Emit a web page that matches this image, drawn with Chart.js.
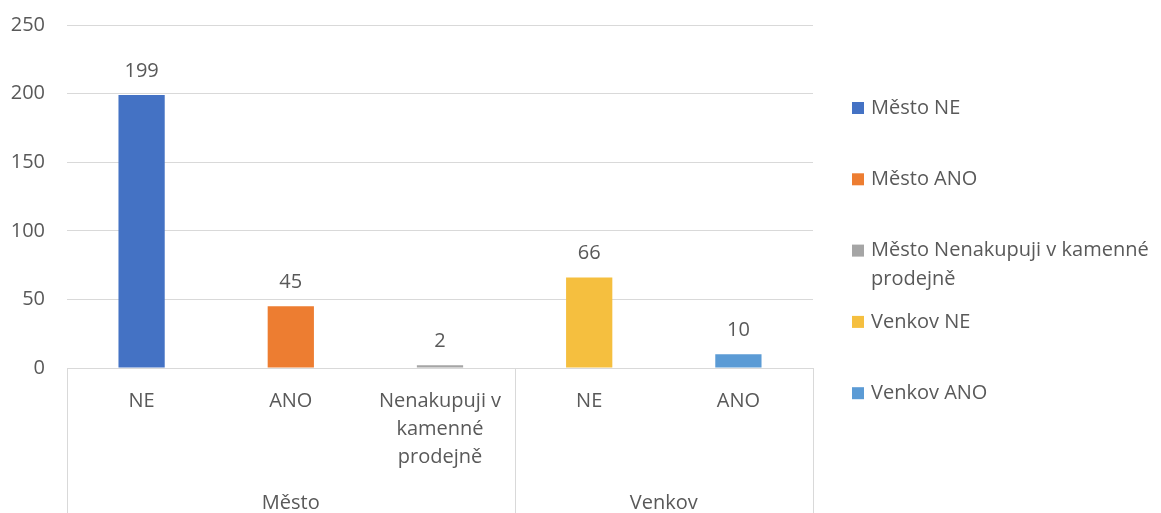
<!DOCTYPE html>
<html>
<head>
<meta charset="utf-8">
<script src="https://cdn.jsdelivr.net/npm/chart.js@4"></script>
<style>
  body { margin: 0; background: #fff; }
  #wrap { width: 1161px; height: 513px; }
</style>
</head>
<body>
<div id="wrap"><canvas id="myChart"></canvas></div>
<script>
// data
const categories = ['NE', 'ANO', ['Nenakupuji v', 'kamenné', 'prodejně'], 'NE', 'ANO'];
const groups = ['Město', 'Venkov'];
const groupSizes = [3, 2];
const seriesNames = ['Město NE', 'Město ANO', 'Město Nenakupuji v kamenné prodejně', 'Venkov NE', 'Venkov ANO'];
const seriesValues = [199, 45, 2, 66, 10];
const seriesColors = ['#4472C4', '#ED7D31', '#A5A5A5', '#F5BF3F', '#5B9BD5'];
const yTicks = [0, 50, 100, 150, 200, 250];

const FONT = '"Open Sans", Lato, sans-serif';
const FSIZE = 20;
const TEXT = '#595959';
const LINE = '#d9d9d9';

// one dataset per series, value only in its own category
const datasets = seriesNames.map((name, i) => ({
    label: name,
    data: categories.map((c, j) => (j === i ? seriesValues[i] : null)),
    backgroundColor: seriesColors[i]
}));

// values above bars
const valueLabels = {
    id: 'valueLabels',
    afterDatasetsDraw(chart) {
        const ctx = chart.ctx;
        ctx.save();
        ctx.font = FSIZE + 'px ' + FONT;
        ctx.fillStyle = TEXT;
        ctx.textAlign = 'center';
        ctx.textBaseline = 'alphabetic';
        chart.data.datasets.forEach((ds, i) => {
            const meta = chart.getDatasetMeta(i);
            meta.data.forEach((el, j) => {
                if (ds.data[j] == null) return;
                ctx.fillText(ds.data[j], el.x, el.y - 18);
            });
        });
        ctx.restore();
    }
};

// group labels + separators under the category axis
const groupAxis = {
    id: 'groupAxis',
    afterDraw(chart) {
        const ctx = chart.ctx;
        const x = chart.scales.x;
        const bottom = chart.height;
        const half = (x.getPixelForValue(1) - x.getPixelForValue(0)) / 2;
        ctx.save();
        ctx.strokeStyle = LINE;
        ctx.lineWidth = 1;
        let start = 0;
        let edges = [x.left];
        groupSizes.forEach(n => {
            start += n;
            edges.push(x.getPixelForValue(start - 1) + half);
        });
        edges.forEach(px => {
            ctx.beginPath();
            ctx.moveTo(Math.round(px) + 0.5, x.top);
            ctx.lineTo(Math.round(px) + 0.5, bottom);
            ctx.stroke();
        });
        ctx.font = FSIZE + 'px ' + FONT;
        ctx.fillStyle = TEXT;
        ctx.textAlign = 'center';
        ctx.textBaseline = 'middle';
        groups.forEach((g, i) => {
            ctx.fillText(g, (edges[i] + edges[i + 1]) / 2, x.top + 135);
        });
        ctx.restore();
    }
};

// legend on the right, evenly spaced items like the original
const sideLegend = {
    id: 'sideLegend',
    afterDraw(chart) {
        const ctx = chart.ctx;
        const left = chart.chartArea.right + 39;
        const textX = left + 19;
        const maxW = chart.width - textX - 2;
        ctx.save();
        ctx.font = FSIZE + 'px ' + FONT;
        ctx.textBaseline = 'middle';
        ctx.textAlign = 'left';
        chart.data.datasets.forEach((ds, i) => {
            const y = 108 + i * 71.3;
            ctx.fillStyle = ds.backgroundColor;
            ctx.fillRect(left, y - 6, 12, 12);
            // wrap words
            const words = ds.label.split(' ');
            let lines = [], cur = '';
            words.forEach(w => {
                const t = cur ? cur + ' ' + w : w;
                if (ctx.measureText(t).width > maxW && cur) { lines.push(cur); cur = w; }
                else cur = t;
            });
            lines.push(cur);
            ctx.fillStyle = TEXT;
            lines.forEach((l, k) => ctx.fillText(l, textX, y + k * 29));
        });
        ctx.restore();
    }
};

const ctx = document.getElementById('myChart').getContext('2d');
const myChart = new Chart(ctx, {
    type: 'bar',
    data: { labels: categories, datasets: datasets },
    options: {
        responsive: true,
        maintainAspectRatio: false,
        animation: false,
        layout: { padding: { top: 25, right: 348, left: 0, bottom: 0 } },
        datasets: { bar: { grouped: false, barPercentage: 0.31, categoryPercentage: 1 } },
        plugins: { legend: { display: false }, tooltip: { enabled: false } },
        scales: {
            x: {
                grid: { display: false },
                border: { display: true, color: LINE },
                ticks: { color: TEXT, font: { family: FONT, size: FSIZE, lineHeight: 1.4 }, padding: 11, maxRotation: 0, autoSkip: false },
                afterFit(scale) { scale.height = 145; scale.paddingLeft = 0; scale.paddingRight = 0; }
            },
            y: {
                min: 0,
                max: 250,
                afterBuildTicks(scale) { scale.ticks = yTicks.map(v => ({ value: v })); },
                grid: { color: LINE, drawTicks: false },
                border: { display: false },
                ticks: { color: TEXT, font: { family: FONT, size: FSIZE }, padding: 22 },
                afterFit(scale) { scale.width = 67; scale.paddingTop = 0; scale.paddingBottom = 0; }
            }
        }
    },
    plugins: [valueLabels, groupAxis, sideLegend]
});
</script>
</body>
</html>
